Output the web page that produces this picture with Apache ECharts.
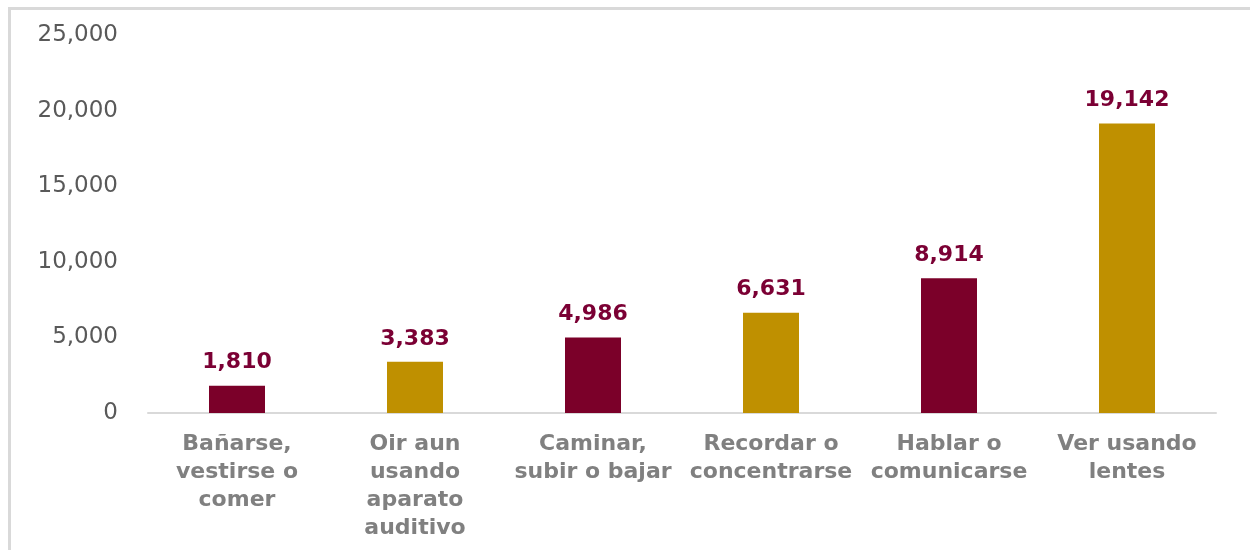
<!DOCTYPE html>
<html>
<head>
<meta charset="utf-8">
<script src="https://cdn.jsdelivr.net/npm/echarts@6/dist/echarts.min.js"></script>
<style>
  html, body { margin: 0; padding: 0; background: #fff; }
  .frame {
    position: absolute;
    left: 8px;
    top: 7px;
    width: 1260px;
    height: 560px;
    border: 3px solid #d9d9d9;
    box-sizing: border-box;
  }
  #chart { position: absolute; left: 0; top: 0; width: 1250px; height: 550px; }
</style>
</head>
<body>
<div class="frame"></div>
<div id="chart"></div>
<script>
// categorias (con saltos de linea como en el original)
const categories = [
  'Bañarse,\nvestirse o\ncomer',
  'Oir aun\nusando\naparato\nauditivo',
  'Caminar,\nsubir o bajar',
  'Recordar o\nconcentrarse',
  'Hablar o\ncomunicarse',
  'Ver usando\nlentes'
];
const values = [1810, 3383, 4986, 6631, 8914, 19142];
const barColors = ['#7B0029', '#BF9000', '#7B0029', '#BF9000', '#7B0029', '#BF9000'];
const yMax = 25000;
const yStep = 5000;

const chart = echarts.init(document.getElementById('chart'));

const option = {
  animation: false,
  grid: {
    left: 148,
    right: 34,
    top: 35,
    bottom: 137
  },
  xAxis: {
    type: 'category',
    data: categories,
    axisLine: { lineStyle: { color: '#d9d9d9', width: 2 } },
    axisTick: { show: false },
    axisLabel: {
      interval: 0,
      margin: 17,
      fontFamily: 'DejaVu Sans',
      fontWeight: 'bold',
      fontSize: 22,
      lineHeight: 28,
      color: '#808080'
    }
  },
  yAxis: {
    type: 'value',
    min: 0,
    max: yMax,
    interval: yStep,
    axisLine: { show: false },
    axisTick: { show: false },
    splitLine: { show: false },
    axisLabel: {
      margin: 30,
      fontFamily: 'DejaVu Sans',
      fontSize: 23,
      color: '#595959',
      formatter: v => v.toLocaleString('en-US')
    }
  },
  series: [{
    type: 'bar',
    barWidth: 56,
    data: values.map((v, i) => ({ value: v, itemStyle: { color: barColors[i] } })),
    label: {
      show: true,
      position: 'top',
      distance: 12,
      fontFamily: 'DejaVu Sans',
      fontWeight: 'bold',
      fontSize: 22,
      color: '#7B0034',
      formatter: p => p.value.toLocaleString('en-US')
    }
  }]
};

chart.setOption(option);
</script>
</body>
</html>
